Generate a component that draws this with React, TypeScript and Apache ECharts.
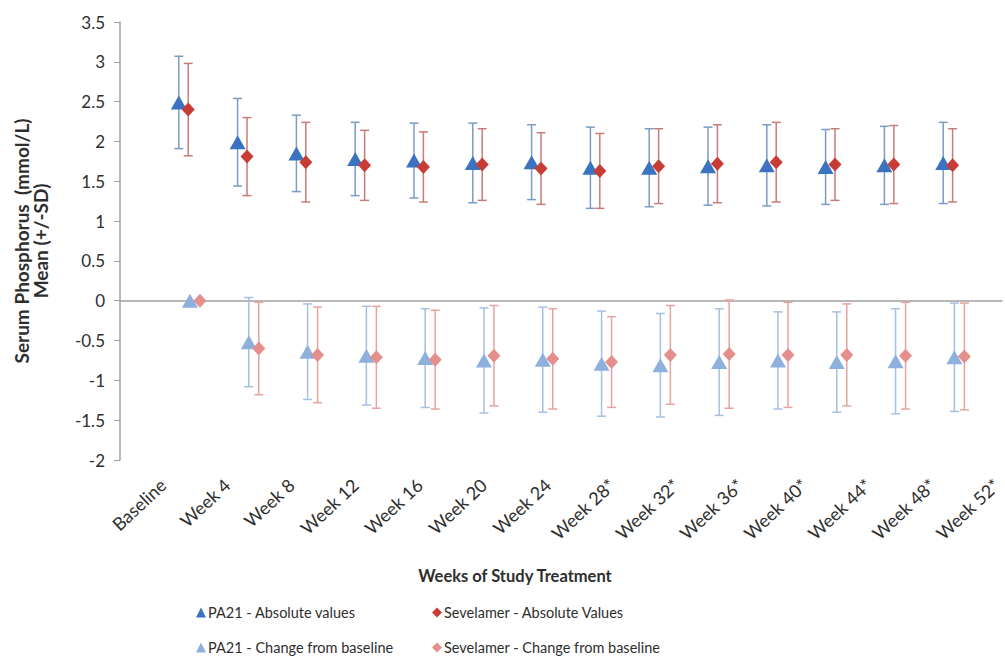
import React, { useEffect, useRef } from "react";
import * as echarts from "echarts";

const categories = [
  "Baseline", "Week 4", "Week 8", "Week 12", "Week 16", "Week 20", "Week 24",
  "Week 28*", "Week 32*", "Week 36*", "Week 40*", "Week 44*", "Week 48*", "Week 52*",
];
const yTicks = { min: -2, max: 3.5, interval: 0.5 };

const pa21AbsMean = [2.49, 1.99, 1.85, 1.78, 1.76, 1.73, 1.74, 1.67, 1.67, 1.69, 1.70, 1.68, 1.70, 1.73];
const pa21AbsSD = [0.58, 0.55, 0.48, 0.46, 0.47, 0.50, 0.47, 0.51, 0.49, 0.49, 0.51, 0.47, 0.49, 0.51];
const sevAbsMean = [2.40, 1.81, 1.74, 1.70, 1.68, 1.71, 1.66, 1.63, 1.69, 1.72, 1.74, 1.71, 1.71, 1.70];
const sevAbsSD = [0.58, 0.49, 0.50, 0.44, 0.44, 0.45, 0.45, 0.47, 0.47, 0.49, 0.50, 0.45, 0.49, 0.46];
const pa21ChgMean = [0, -0.52, -0.64, -0.69, -0.72, -0.75, -0.74, -0.79, -0.81, -0.77, -0.75, -0.77, -0.76, -0.71];
const pa21ChgSD = [0, 0.56, 0.60, 0.62, 0.62, 0.66, 0.66, 0.66, 0.65, 0.67, 0.61, 0.63, 0.66, 0.68];
const sevChgMean = [0, -0.60, -0.68, -0.71, -0.74, -0.69, -0.73, -0.77, -0.68, -0.67, -0.68, -0.68, -0.69, -0.70];
const sevChgSD = [0, 0.58, 0.60, 0.64, 0.62, 0.63, 0.63, 0.57, 0.62, 0.68, 0.66, 0.64, 0.67, 0.67];

const FONT = "Lato";
const TEXT = "#2e2e2e";

type Spec = {
  name: string;
  mean: number[];
  sd: number[];
  offset: number;
  symbol: string;
  size: number | number[];
  color: string;
  barColor: string;
};

const specs: Spec[] = [
  { name: "PA21 - Absolute values", mean: pa21AbsMean, sd: pa21AbsSD, offset: 0, symbol: "triangle", size: [16, 14], color: "#3b73c0", barColor: "#7b9cc6" },
  { name: "Sevelamer - Absolute Values", mean: sevAbsMean, sd: sevAbsSD, offset: 0.16, symbol: "diamond", size: [13, 14], color: "#c83c36", barColor: "#c77c79" },
  { name: "PA21 - Change from baseline", mean: pa21ChgMean, sd: pa21ChgSD, offset: 0.19, symbol: "triangle", size: [16, 14], color: "#8eb0dd", barColor: "#a6c0e0" },
  { name: "Sevelamer - Change from baseline", mean: sevChgMean, sd: sevChgSD, offset: 0.36, symbol: "diamond", size: [13, 14], color: "#e48f8b", barColor: "#e6a4a1" },
];

export default function App() {
  const ref = useRef<HTMLDivElement>(null);
  useEffect(() => {
    if (!ref.current) return;
    const chart = echarts.init(ref.current, undefined, { renderer: "svg" });

    const series: any[] = [];
    specs.forEach((s) => {
      series.push({
        name: s.name + " SD",
        type: "custom",
        xAxisIndex: 0,
        yAxisIndex: 0,
        z: 1,
        data: s.mean.map((m, i) => [i + 1 + s.offset, m, s.sd[i]]),
        renderItem: (params: any, api: any) => {
          const x = api.value(0);
          const m = api.value(1);
          const sd = api.value(2);
          const top = api.coord([x, m + sd]);
          const bot = api.coord([x, m - sd]);
          const cap = 4.5;
          const style = { stroke: s.barColor, lineWidth: 1.5 };
          return {
            type: "group",
            children: [
              { type: "line", shape: { x1: top[0], y1: top[1], x2: bot[0], y2: bot[1] }, style },
              { type: "line", shape: { x1: top[0] - cap, y1: top[1], x2: top[0] + cap, y2: top[1] }, style },
              { type: "line", shape: { x1: bot[0] - cap, y1: bot[1], x2: bot[0] + cap, y2: bot[1] }, style },
            ],
          };
        },
      });
    });
    specs.forEach((s) => {
      series.push({
        name: s.name,
        type: "scatter",
        xAxisIndex: 0,
        yAxisIndex: 0,
        z: 3,
        symbol: s.symbol,
        symbolSize: s.size,
        itemStyle: { color: s.color, opacity: 1 },
        data: s.mean.map((m, i) => [i + 1 + s.offset, m]),
      });
    });

    const legendCommon = {
      orient: "vertical",
      itemWidth: 10,
      itemHeight: 10,
      itemGap: 20,
      padding: 0,
      textStyle: { fontFamily: FONT, fontSize: 14.5, color: TEXT, padding: [0, 0, 0, -3] },
      selectedMode: false,
    };

    chart.setOption({
      animation: false,
      grid: [
        { left: 120, right: 3, top: 22, bottom: 204 },
        { left: 163, right: 2, top: 22, bottom: 204 },
      ],
      xAxis: [
        {
          type: "value",
          gridIndex: 0,
          min: 0,
          max: 15,
          axisLine: { show: true, onZero: true, lineStyle: { color: "#a0a0a0", width: 1.5 } },
          axisTick: { show: false },
          axisLabel: { show: false },
          splitLine: { show: false },
        },
        {
          type: "category",
          gridIndex: 1,
          data: categories,
          boundaryGap: false,
          axisLine: { show: false },
          axisTick: { show: false },
          splitLine: { show: false },
          axisLabel: {
            show: true,
            interval: 0,
            rotate: 43,
            margin: 22,
            fontFamily: FONT,
            fontSize: 18,
            color: TEXT,
          },
        },
      ],
      yAxis: [
        {
          type: "value",
          gridIndex: 0,
          min: yTicks.min,
          max: yTicks.max,
          interval: yTicks.interval,
          name: "Serum Phosphorus  (mmol/L)\nMean (+/-SD)",
          nameLocation: "middle",
          nameGap: 70,
          nameTextStyle: { fontFamily: FONT, fontSize: 19, fontWeight: "bold", color: TEXT, lineHeight: 19 },
          axisLine: { show: true, lineStyle: { color: "#a0a0a0", width: 1.5 } },
          axisTick: { show: true, length: 6, lineStyle: { color: "#a0a0a0" } },
          axisLabel: { fontFamily: FONT, fontSize: 17, color: TEXT, margin: 15 },
          splitLine: { show: false },
        },
        {
          type: "value",
          gridIndex: 1,
          show: false,
          min: 0,
          max: 1,
        },
      ],
      legend: [
        { ...legendCommon, left: 196, top: 605, data: [specs[0].name, specs[2].name] },
        { ...legendCommon, left: 432, top: 605, data: [specs[1].name, specs[3].name] },
      ],
      graphic: [
        {
          type: "text",
          x: 515,
          y: 576,
          style: {
            text: "Weeks of Study Treatment",
            fontFamily: FONT,
            fontSize: 16.5,
            fontWeight: "bold",
            fill: TEXT,
            align: "center",
            verticalAlign: "middle",
          },
        },
      ],
      series,
    });
    return () => chart.dispose();
  }, []);
  return (
    <div
      ref={ref}
      style={{ position: "fixed", left: 0, top: 0, width: 1005, height: 664, background: "#fff" }}
    />
  );
}
